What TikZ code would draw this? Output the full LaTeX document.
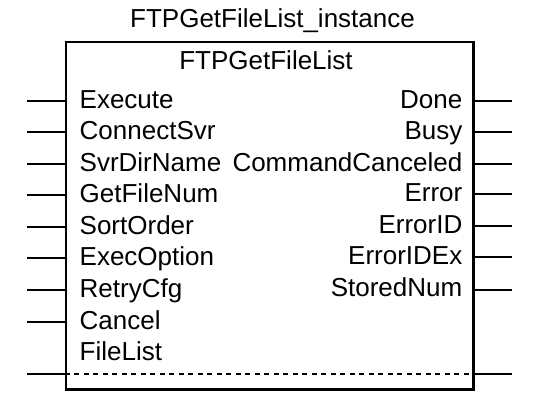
\documentclass[tikz,border=0pt]{standalone}
\usepackage{fontspec}
\setmainfont{Liberation Sans}
\begin{document}
\begin{tikzpicture}[x=1pt,y=-1pt,
  lbl/.style={inner sep=0pt, font=\fontsize{26}{30}\selectfont},
  pin/.style={line width=2pt},
  frame/.style={draw, line width=2.4pt, inner sep=0pt, minimum width=407.5pt, minimum height=347.5pt}]
\useasboundingbox (0,0) rectangle (541,406);
\node[frame] (box) at (269.75,215.75) {};
\node[lbl, anchor=base] (title) at (272.5,28) {FTPGetFileList\_instance};
\node[lbl, anchor=base] (fbname) at (266,70) {FTPGetFileList};
% left pins
\foreach \n/\t/\y in {i1/Execute/101, i2/ConnectSvr/132.5, i3/SvrDirName/164, i4/GetFileNum/195, i5/SortOrder/227, i6/ExecOption/258, i7/RetryCfg/290, i8/Cancel/321.5}{
  \coordinate (\n) at (27,\y);
  \draw[pin] (\n) -- (\n -| box.west);
  \node[lbl, anchor=base west] (t\n) at (79.5,\y+7.5) {\t};
}
\node[lbl, anchor=base west] (tfl) at (79.5,360.5) {FileList};
% right pins
\foreach \n/\t/\y in {o1/Done/101, o2/Busy/132, o3/CommandCanceled/164, o4/Error/194.5, o5/ErrorID/226.5, o6/ErrorIDEx/257, o7/StoredNum/289.5}{
  \coordinate (\n) at (512,\y);
  \draw[pin] (\n -| box.east) -- (\n);
  \node[lbl, anchor=base east] (t\n) at (462.5,\y+7.5) {\t};
}
% in-out FileList
\coordinate (fl) at (27,374);
\coordinate (flo) at (512,374);
\draw[pin] (fl) -- (fl -| box.west);
\draw[line width=1.8pt, dash pattern=on 5pt off 4.5pt] (fl -| box.west) -- (flo -| box.east);
\draw[pin] (flo -| box.east) -- (flo);
\end{tikzpicture}
\end{document}
